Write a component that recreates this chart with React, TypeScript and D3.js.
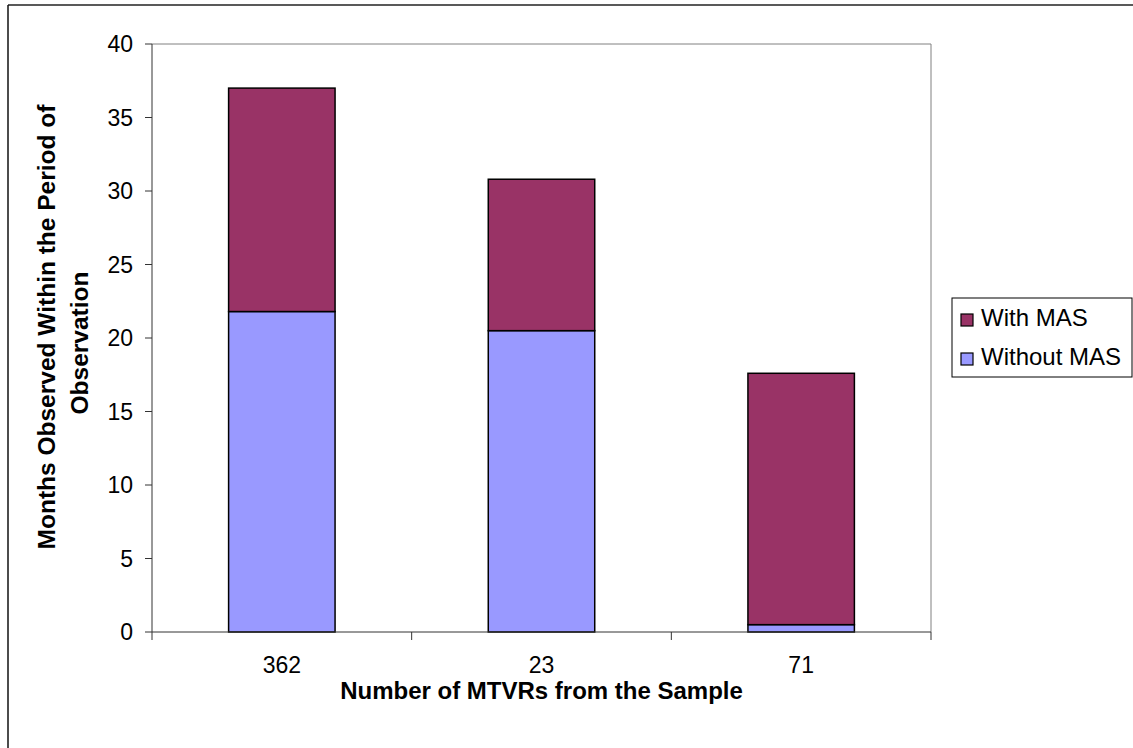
import React from "react";
import * as d3 from "d3";

const categories = ["362", "23", "71"];
const withoutMAS = [21.8, 20.5, 0.5];
const withMAS = [15.2, 10.3, 17.1];
const yTicks = [0, 5, 10, 15, 20, 25, 30, 35, 40];
const seriesNames = ["With MAS", "Without MAS"];
const seriesColors = ["#993366", "#9999FF"];

const W = 1133;
const H = 748;
const M = { left: 152, right: 931, top: 44, bottom: 632 };
const FONT = "Liberation Sans, Arial, sans-serif";

export default function App() {
  const x = d3.scaleBand<string>().domain(categories).range([M.left, M.right]).paddingInner(0).paddingOuter(0);
  const y = d3.scaleLinear().domain([0, 40]).range([M.bottom, M.top]);
  const barW = x.bandwidth() * 0.41;

  const rows = categories.map((c, i) => ({ cat: c, without: withoutMAS[i], with: withMAS[i] }));
  const stack = d3.stack<any>().keys(["without", "with"])(rows);
  const keyColor: Record<string, string> = { without: seriesColors[1], with: seriesColors[0] };

  const boundaries = [...categories.map((c) => x(c)!), M.right];

  return (
    <svg width={W} height={H} style={{ position: "absolute", left: 0, top: 0, background: "#fff" }} fontFamily={FONT}>
      <rect x={0} y={0} width={W} height={H} fill="#fff" />
      {/* outer border (clipped at right/bottom) */}
      <line x1={8} y1={5} x2={W} y2={5} stroke="#222" strokeWidth={1.5} />
      <line x1={8} y1={5} x2={8} y2={H} stroke="#111" strokeWidth={1.5} />

      {/* plot area frame */}
      <line x1={M.left} y1={M.top} x2={M.right} y2={M.top} stroke="#808080" strokeWidth={1} />
      <line x1={M.right} y1={M.top} x2={M.right} y2={M.bottom} stroke="#808080" strokeWidth={1} />

      {/* bars */}
      {stack.map((layer) => (
        <g key={layer.key}>
          {layer.map((d, i) => (
            <rect
              key={i}
              x={x(categories[i])! + (x.bandwidth() - barW) / 2}
              y={y(d[1])}
              width={barW}
              height={y(d[0]) - y(d[1])}
              fill={keyColor[layer.key]}
              stroke="#000"
              strokeWidth={1.5}
            />
          ))}
        </g>
      ))}

      {/* axes */}
      <line x1={M.left} y1={M.top} x2={M.left} y2={M.bottom} stroke="#333" strokeWidth={1} />
      <line x1={M.left} y1={M.bottom} x2={M.right} y2={M.bottom} stroke="#333" strokeWidth={1} />
      {yTicks.map((t) => (
        <g key={t}>
          <line x1={M.left - 7} x2={M.left} y1={y(t)} y2={y(t)} stroke="#333" />
          <text x={133} y={y(t)} dy="0.35em" textAnchor="end" fontSize={23} fill="#000">
            {t}
          </text>
        </g>
      ))}
      {boundaries.map((b, i) => (
        <line key={i} x1={b} x2={b} y1={M.bottom} y2={M.bottom + 8} stroke="#333" />
      ))}
      {categories.map((c) => (
        <text key={c} x={x(c)! + x.bandwidth() / 2} y={673} textAnchor="middle" fontSize={23} fill="#000">
          {c}
        </text>
      ))}

      {/* axis titles */}
      <text x={(M.left + M.right) / 2} y={699} textAnchor="middle" fontSize={24} fontWeight="bold" fill="#000">
        Number of MTVRs from the Sample
      </text>
      <g transform="rotate(-90)">
        <text x={-327} y={55} textAnchor="middle" fontSize={24.5} fontWeight="bold" fill="#000">
          Months Observed Within the Period of
        </text>
        <text x={-343} y={88} textAnchor="middle" fontSize={24.5} fontWeight="bold" fill="#000">
          Observation
        </text>
      </g>

      {/* legend */}
      <rect x={952} y={298} width={180} height={79} fill="#fff" stroke="#000" strokeWidth={1} />
      {seriesNames.map((n, i) => (
        <g key={n}>
          <rect x={961} y={314 + i * 39} width={12} height={12} fill={seriesColors[i]} stroke="#000" strokeWidth={1.2} />
          <text x={981} y={326 + i * 39} fontSize={24} fill="#000">
            {n}
          </text>
        </g>
      ))}
    </svg>
  );
}
